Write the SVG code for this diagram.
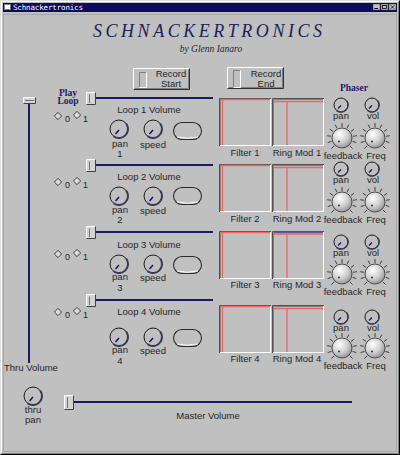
<svg xmlns="http://www.w3.org/2000/svg" width="400" height="455" viewBox="0 0 400 455">
<style>
.lbl{font-family:"Liberation Sans",Arial,sans-serif;font-size:9.5px;fill:#262626;text-anchor:middle}
.lblL{font-family:"Liberation Sans",Arial,sans-serif;font-size:9.5px;fill:#262626}
.dig{font-family:"Liberation Sans",Arial,sans-serif;font-size:9px;fill:#262626}
.trk{stroke:#1a1a66;stroke-width:2;fill:none}
.nav{font-family:"Liberation Serif","Times New Roman",serif;font-weight:bold;fill:#1c1c6a;font-size:9.5px}
.red{stroke:#f06464;stroke-width:1.3;fill:none}
</style>
<defs>
<radialGradient id="bk" cx="0.38" cy="0.32" r="0.75">
<stop offset="0" stop-color="#ffffff"/><stop offset="0.55" stop-color="#cfcfcf"/><stop offset="1" stop-color="#8c8c8c"/>
</radialGradient>
<g id="knob">
<circle r="9" fill="#c0c0c0" stroke="#1a1a1a" stroke-width="1"/>
<path d="M7.2,-5.4 A9,9 0 0 1 -5.4,7.2" stroke="#3a3a55" stroke-width="2" fill="none"/>
<line x1="-3.5" y1="5" x2="0" y2="1" stroke="#10106a" stroke-width="1.5"/>
</g>
<g id="knobSm">
<circle r="7" fill="#c0c0c0" stroke="#1a1a1a" stroke-width="1"/>
<path d="M5.6,-4.2 A7,7 0 0 1 -4.2,5.6" stroke="#3a3a55" stroke-width="1.6" fill="none"/>
<line x1="-3" y1="3.5" x2="0" y2="0.5" stroke="#10106a" stroke-width="1.3"/>
</g>
<g id="bigknob">
<path d="M-7.8,7.8L-10.6,10.6M-10.5,3.4L-14.3,4.6M-10.9,-1.7L-14.8,-2.3M-8.9,-6.5L-12.1,-8.8M-5,-9.8L-6.8,-13.4M0,-11L0,-15M5,-9.8L6.8,-13.4M8.9,-6.5L12.1,-8.8M10.9,-1.7L14.8,-2.3M10.5,3.4L14.3,4.6M7.8,7.8L10.6,10.6" stroke="#404040" stroke-width="1"/>
<circle r="10" fill="url(#bk)" stroke="#4a4a4a" stroke-width="1"/>
<circle cx="-3" cy="3.5" r="1" fill="#303030"/>
</g>
<g id="thumbH">
<rect width="10" height="13" fill="#d4d4d4"/>
<path d="M0.5,12.5 V0.5 H9.5" stroke="#fff" fill="none"/>
<path d="M0.5,12.5 H9.5 V0.5" stroke="#404040" fill="none"/>
<line x1="3.5" y1="2.5" x2="3.5" y2="11" stroke="#707070"/>
</g>
<g id="dia">
<path d="M0,-3.6 L3.6,0 L0,3.6 L-3.6,0 Z" fill="#dcdcdc" stroke="#3a3a3a" stroke-width="1"/>
</g>
<g id="oval">
<rect x="0.5" y="0.5" width="28" height="17" rx="8.5" fill="#c0c0c0" stroke="#2a2a2a" stroke-width="1.1"/>
<path d="M4,15 Q14,17.5 25,15" stroke="#ffffff" fill="none"/>
</g>
<g id="fbox">
<rect width="52" height="48" fill="#c0c0c0"/>
<path d="M0.5,48 V0.5 H52" stroke="#505050" fill="none"/>
<path d="M1.5,47 V1.5 H51" stroke="#808080" fill="none"/>
<path d="M1,47.5 H51.5 V1" stroke="#ffffff" fill="none"/>
</g>
<g id="recbtn">
<rect width="57" height="22" fill="#c0c0c0"/>
<path d="M0.5,21.5 V0.5 H56.5" stroke="#ffffff" fill="none"/>
<path d="M0.5,21.5 H56.5 V0.5" stroke="#303030" fill="none"/>
<path d="M1.5,20.5 H55.5 V1.5" stroke="#808080" fill="none"/>
</g>
</defs>

<!-- window frame -->
<rect x="0" y="0" width="400" height="455" fill="#c0c0c0"/>
<path d="M0.5,454.5 V0.5 H399.5" stroke="#dfdfdf" fill="none"/>
<path d="M1.5,453.5 V1.5 H398.5" stroke="#ffffff" fill="none"/>
<path d="M0.5,454.5 H399.5 V0.5" stroke="#000000" fill="none"/>
<path d="M1.5,453.5 H398.5 V1.5" stroke="#808080" fill="none"/>
<rect x="3.5" y="14.5" width="393" height="437" fill="none" stroke="#a8a8a8"/>

<g id="titlebar">
<rect x="3" y="3" width="394" height="9" fill="#0a0a5e"/>
<rect x="4.5" y="4.5" width="6" height="5" fill="#ffffff" stroke="#808080" stroke-width="1"/>
<text x="13" y="10.2" font-family="DejaVu Sans Mono, monospace" font-size="7.5" fill="#ffffff" textLength="70" lengthAdjust="spacing">Schnackertronics</text>
<rect x="373" y="4" width="7" height="6" fill="#c0c0c0" stroke="#404040" stroke-width="0.5"/>
<line x1="374.5" y1="8.5" x2="378" y2="8.5" stroke="#000"/>
<rect x="381" y="4" width="7" height="6" fill="#c0c0c0" stroke="#404040" stroke-width="0.5"/>
<rect x="382.5" y="5.5" width="4" height="3" fill="none" stroke="#000" stroke-width="0.8"/>
<rect x="389" y="4" width="7" height="6" fill="#c0c0c0" stroke="#404040" stroke-width="0.5"/>
<path d="M390.8,5.3 L394.2,8.7 M394.2,5.3 L390.8,8.7" stroke="#000" stroke-width="0.8"/>
</g>

<g id="heading">
<text x="93" y="37" font-family="Liberation Serif, Times New Roman, serif" font-style="italic" font-size="18" fill="#1e1e5a" textLength="229" lengthAdjust="spacing">SCHNACKERTRONICS</text>
<text x="211" y="52" font-family="Liberation Serif, Times New Roman, serif" font-style="italic" font-size="9.5" fill="#262626" text-anchor="middle">by  Glenn Ianaro</text>
</g>

<g id="record-start">
<use href="#recbtn" x="133" y="68"/>
<path d="M139.5,87 V72.5 H146" stroke="#808080" fill="none"/>
<path d="M139.5,87.5 H146.5 V72.5" stroke="#ffffff" fill="none"/>
<text class="lbl" x="171" y="77">Record</text>
<text class="lbl" x="171" y="87">Start</text>
</g>
<g id="record-end">
<use href="#recbtn" x="227" y="67"/>
<path d="M233.5,87 V70.5 H240" stroke="#808080" fill="none"/>
<path d="M233.5,87.5 H240.5 V70.5" stroke="#ffffff" fill="none"/>
<text class="lbl" x="266" y="77">Record</text>
<text class="lbl" x="266" y="87">End</text>
</g>

<g id="play-loop">
<text class="nav" x="68" y="95.5" text-anchor="middle" font-size="8">Play</text>
<text class="nav" x="68" y="104" text-anchor="middle" font-size="8">Loop</text>
</g>
<text class="nav" x="354" y="91" text-anchor="middle">Phaser</text>

<g id="connectors">
<line class="trk" x1="29" y1="103" x2="29" y2="363"/>
<line class="trk" x1="96" y1="98" x2="213" y2="98"/>
<line class="trk" x1="96" y1="165" x2="213" y2="165"/>
<line class="trk" x1="96" y1="232" x2="213" y2="232"/>
<line class="trk" x1="96" y1="300" x2="213" y2="300"/>
<line class="trk" x1="74" y1="402" x2="352" y2="402"/>
</g>

<g id="thru-volume">
<rect x="23" y="97" width="13" height="7" fill="#d4d4d4"/>
<path d="M23.5,103.5 V97.5 H35.5" stroke="#fff" fill="none"/>
<path d="M23.5,103.5 H35.5 V97.5" stroke="#404040" fill="none"/>
<line x1="25" y1="100.5" x2="34" y2="100.5" stroke="#707070"/>
<text class="lblL" x="4" y="371">Thru Volume</text>
</g>

<!-- Loop 1 -->
<g id="loop1">
<use href="#thumbH" x="86" y="92"/>
<use href="#dia" x="58" y="116"/><text class="dig" x="65" y="122">0</text>
<use href="#dia" x="77" y="115"/><text class="dig" x="83" y="122">1</text>
<text class="lbl" x="149" y="113">Loop 1 Volume</text>
<use href="#knob" x="119" y="129"/>
<use href="#knob" x="153" y="129"/>
<use href="#oval" x="173" y="122"/>
<text class="lbl" x="120" y="147">pan</text>
<text class="lbl" x="120" y="157">1</text>
<text class="lbl" x="153" y="148">speed</text>
</g>
<g id="loop2">
<use href="#thumbH" x="86" y="159"/>
<use href="#dia" x="58" y="182"/><text class="dig" x="65" y="188">0</text>
<use href="#dia" x="77" y="181"/><text class="dig" x="83" y="188">1</text>
<text class="lbl" x="149" y="180">Loop 2 Volume</text>
<use href="#knob" x="119" y="196"/>
<use href="#knob" x="153" y="196"/>
<use href="#oval" x="173" y="187"/>
<text class="lbl" x="120" y="213">pan</text>
<text class="lbl" x="120" y="223">2</text>
<text class="lbl" x="153" y="214">speed</text>
</g>
<g id="loop3">
<use href="#thumbH" x="86" y="226"/>
<use href="#dia" x="58" y="254"/><text class="dig" x="65" y="260">0</text>
<use href="#dia" x="77" y="253"/><text class="dig" x="83" y="260">1</text>
<text class="lbl" x="149" y="248">Loop 3 Volume</text>
<use href="#knob" x="119" y="264"/>
<use href="#knob" x="153" y="264"/>
<use href="#oval" x="173" y="256"/>
<text class="lbl" x="120" y="280">pan</text>
<text class="lbl" x="120" y="291">3</text>
<text class="lbl" x="153" y="281">speed</text>
</g>
<g id="loop4">
<use href="#thumbH" x="86" y="294"/>
<use href="#dia" x="58" y="312"/><text class="dig" x="65" y="318">0</text>
<use href="#dia" x="77" y="311"/><text class="dig" x="83" y="318">1</text>
<text class="lbl" x="149" y="315">Loop 4 Volume</text>
<use href="#knob" x="119" y="337"/>
<use href="#knob" x="153" y="337"/>
<use href="#oval" x="173" y="329"/>
<text class="lbl" x="120" y="353">pan</text>
<text class="lbl" x="120" y="364">4</text>
<text class="lbl" x="153" y="354">speed</text>
</g>

<!-- Filters / Ring mods -->
<g id="fx1">
<use href="#fbox" x="219" y="98"/><use href="#fbox" x="272" y="98"/>
<path class="red" d="M221,99.5 H270 M222.5,99.5 V145"/>
<path class="red" d="M274,101.5 H323 M287,101.5 V145"/>
<text class="lbl" x="245" y="156">Filter 1</text>
<text class="lbl" x="297" y="156">Ring Mod 1</text>
</g>
<g id="fx2">
<use href="#fbox" x="219" y="164"/><use href="#fbox" x="272" y="164"/>
<path class="red" d="M221,165.5 H270 M222.5,165.5 V211"/>
<path class="red" d="M274,167.5 H323 M287,167.5 V211"/>
<text class="lbl" x="245" y="222">Filter 2</text>
<text class="lbl" x="297" y="222">Ring Mod 2</text>
</g>
<g id="fx3">
<use href="#fbox" x="219" y="231"/><use href="#fbox" x="272" y="231"/>
<path class="red" d="M221,232.5 H270 M222.5,232.5 V278"/>
<line x1="274" y1="232.5" x2="323" y2="232.5" stroke="#5a5aa0" stroke-width="1.3"/>
<path class="red" d="M274,234 H323 M287,234 V278"/>
<text class="lbl" x="245" y="288">Filter 3</text>
<text class="lbl" x="297" y="288">Ring Mod 3</text>
</g>
<g id="fx4">
<use href="#fbox" x="219" y="305"/><use href="#fbox" x="272" y="305"/>
<path class="red" d="M221,306.5 H270 M222.5,306.5 V352"/>
<path class="red" d="M274,308.5 H323 M287,308.5 V352"/>
<text class="lbl" x="245" y="362">Filter 4</text>
<text class="lbl" x="297" y="362">Ring Mod 4</text>
</g>

<!-- Phaser -->
<g id="phaser1">
<use href="#knobSm" x="341" y="105"/><use href="#knobSm" x="372" y="105"/>
<text class="lbl" x="341" y="119">pan</text><text class="lbl" x="373" y="119">vol</text>
<use href="#bigknob" x="342" y="138"/><use href="#bigknob" x="375" y="138"/>
<text class="lbl" x="343" y="159">feedback</text><text class="lbl" x="376" y="159">Freq</text>
</g>
<g id="phaser2">
<use href="#knobSm" x="341" y="169"/><use href="#knobSm" x="372" y="169"/>
<text class="lbl" x="341" y="183">pan</text><text class="lbl" x="373" y="183">vol</text>
<use href="#bigknob" x="342" y="202"/><use href="#bigknob" x="375" y="202"/>
<text class="lbl" x="343" y="223">feedback</text><text class="lbl" x="376" y="223">Freq</text>
</g>
<g id="phaser3">
<use href="#knobSm" x="341" y="242"/><use href="#knobSm" x="372" y="242"/>
<text class="lbl" x="341" y="256">pan</text><text class="lbl" x="373" y="256">vol</text>
<use href="#bigknob" x="342" y="274"/><use href="#bigknob" x="375" y="274"/>
<text class="lbl" x="343" y="295">feedback</text><text class="lbl" x="376" y="295">Freq</text>
</g>
<g id="phaser4">
<use href="#knobSm" x="341" y="317"/><use href="#knobSm" x="372" y="317"/>
<text class="lbl" x="341" y="331">pan</text><text class="lbl" x="373" y="331">vol</text>
<use href="#bigknob" x="342" y="348"/><use href="#bigknob" x="375" y="348"/>
<text class="lbl" x="343" y="369">feedback</text><text class="lbl" x="376" y="369">Freq</text>
</g>

<g id="thru-pan">
<use href="#knob" x="33" y="396"/>
<text class="lbl" x="33" y="413" font-size="9">thru</text>
<text class="lbl" x="33" y="423" font-size="9">pan</text>
</g>
<g id="master-volume">
<rect x="64" y="395" width="10" height="15" fill="#d4d4d4"/>
<path d="M64.5,409.5 V395.5 H73.5" stroke="#fff" fill="none"/>
<path d="M64.5,409.5 H73.5 V395.5" stroke="#404040" fill="none"/>
<line x1="67.5" y1="397.5" x2="67.5" y2="408" stroke="#707070"/>
<text class="lbl" x="208" y="419">Master Volume</text>
</g>
</svg>
